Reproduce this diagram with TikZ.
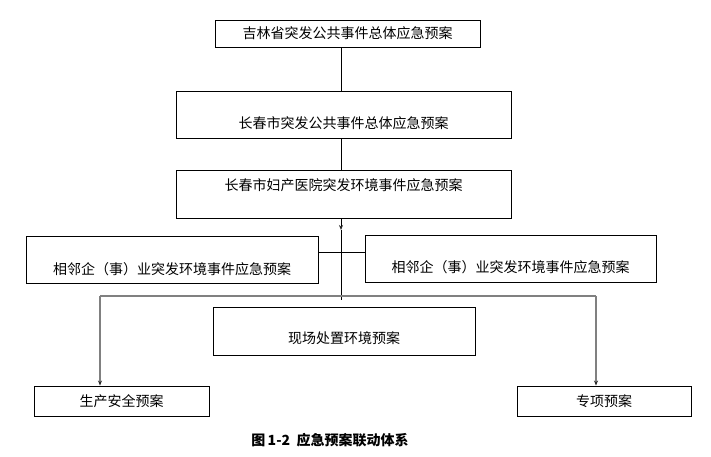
\documentclass[tikz,border=0pt]{standalone}
\usepackage{fontspec}
\usetikzlibrary{arrows.meta,positioning}
\newfontfamily\cjk{Noto Sans CJK SC}
\definecolor{LinkGray}{RGB}{128,128,128}
\newcommand{\dropt}[2]{\raisebox{#1}[\height][\depth]{#2}}

\begin{document}
\begin{tikzpicture}[x=1pt, y=-1pt,
  every node/.style={font=\cjk\fontsize{14}{16}\selectfont},
  planbox/.style={draw, line width=0.9pt, inner sep=0pt},
  link/.style={line width=0.9pt},
  grayline/.style={draw=LinkGray, line width=1.5pt},
  tip/.style={-{Stealth[length=5pt,width=4pt,color=black!85]}}]
\useasboundingbox (0,0) rectangle (711,457);

\node[planbox, minimum width=265pt, minimum height=27pt] (prov) at (347.5,33.5) {吉林省突发公共事件总体应急预案};
\node[planbox, minimum width=335pt, minimum height=47pt] (city) at (343.5,114.5) {\dropt{-8.5pt}{长春市突发公共事件总体应急预案}};
\node[planbox, minimum width=335pt, minimum height=48pt] (hosp) at (343.5,194) {\dropt{9pt}{长春市妇产医院突发环境事件应急预案}};

\node[planbox, minimum width=292pt, minimum height=47pt] (adjL) at (172,259.5) {\dropt{-10pt}{相邻企（事）业突发环境事件应急预案}};
\node[planbox, minimum width=291pt, minimum height=47pt] (adjR) at (510.5,258.5) {\dropt{-9pt}{相邻企（事）业突发环境事件应急预案}};
\node[planbox, minimum width=262pt, minimum height=48pt] (site) at (344,331) {\dropt{-7pt}{现场处置环境预案}};

\node[planbox, minimum width=175pt, minimum height=30pt] (safe) at (121.5,401) {生产安全预案};
\node[planbox, minimum width=174pt, minimum height=30pt] (spec) at (604,401) {专项预案};

\coordinate (hub) at (341,252);
\coordinate (tiphub) at (341,230);
\coordinate (cend) at (341,300);
\coordinate (bl) at (100,296);
\coordinate (br) at (596,296);

\draw[link] (hub |- prov.south) -- (hub |- city.north);
\draw[link] (hub |- city.south) -- (hub |- hosp.north);
\draw[link, tip] (hub |- hosp.south) -- (tiphub);
\draw[link] (tiphub) -- (cend);
\draw[link] (adjL.east |- hub) -- (adjR.west |- hub);

% bracket to the lower plans
\draw[grayline] (bl) -- (br);
\draw[grayline, tip] (bl) -- (bl |- safe.north);
\draw[grayline, tip] (br) -- (br |- spec.north);

\node[font=\cjk\bfseries\fontsize{14}{16}\selectfont] (cap) at (330,440) {图\,1-2\ \ 应急预案联动体系};
\end{tikzpicture}
\end{document}
